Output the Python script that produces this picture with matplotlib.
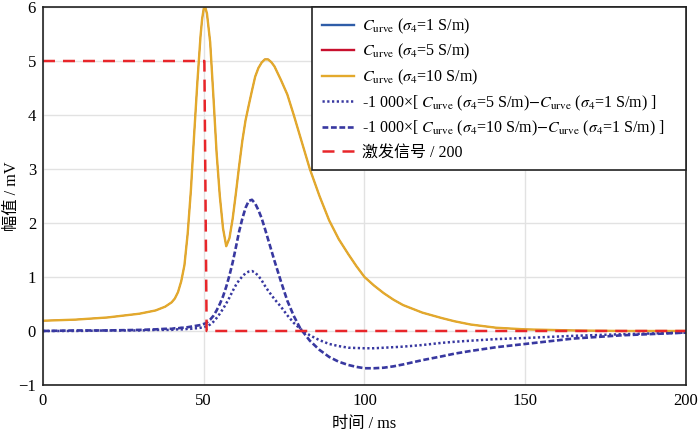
import matplotlib
matplotlib.use('Agg')
import numpy as np
import matplotlib.pyplot as plt

plt.rcParams['font.family'] = ['Liberation Serif', 'Noto Sans CJK SC']
plt.rcParams['mathtext.fontset'] = 'stix'

# 时间轴 (ms)
t = [0, 10, 20, 30, 35, 38,
     40, 41, 42, 43, 44, 45, 46, 47, 48, 49,
     49.5, 50, 50.5, 51,
     52, 53, 54, 55, 56, 57, 58, 59, 60, 61, 62, 63, 64, 65, 66, 67, 68, 69, 70, 71, 72,
     74, 76, 78, 80,
     83, 86, 89, 92, 95,
     97.5, 100, 103, 106, 109, 112, 115, 118, 121, 124, 128,
     133, 141, 150, 165, 180, 200]

# Curve (sigma4 = 10 S/m), mV
curve_s10 = [0.19, 0.21, 0.25, 0.32, 0.38, 0.45,
             0.53, 0.60, 0.72, 0.92, 1.22, 1.80, 2.60, 3.62, 4.59, 5.46,
             5.78, 5.97, 5.99, 5.88,
             5.35, 4.35, 3.30, 2.50, 1.90, 1.57, 1.72, 2.08, 2.55, 3.05, 3.52, 3.90, 4.18, 4.45,
             4.71, 4.87, 4.97, 5.03, 5.03, 4.98, 4.90,
             4.65, 4.38, 4.00, 3.60,
             3.00, 2.50, 2.05, 1.70, 1.42,
             1.20, 1.00, 0.84, 0.70, 0.58, 0.48, 0.41, 0.34, 0.29, 0.24, 0.18,
             0.12, 0.06, 0.03, 0.01, 0.00, 0.00]

# -1000 x [Curve(10) - Curve(1)]
diff_10 = [0.00, 0.01, 0.01, 0.02, 0.03, 0.04,
           0.04, 0.05, 0.05, 0.06, 0.06, 0.07, 0.08, 0.09, 0.10, 0.11,
           0.12, 0.13, 0.14, 0.16,
           0.21, 0.28, 0.38, 0.50, 0.64, 0.82, 1.03, 1.27, 1.55, 1.84, 2.08, 2.28, 2.41, 2.43,
           2.36, 2.24, 2.09, 1.90, 1.70, 1.50, 1.30,
           0.92, 0.56, 0.28, 0.05,
           -0.18, -0.35, -0.48, -0.57, -0.63,
           -0.665, -0.69, -0.69, -0.68, -0.655, -0.62, -0.58, -0.54, -0.505, -0.47, -0.42,
           -0.37, -0.30, -0.24, -0.14, -0.08, -0.03]

# -1000 x [Curve(5) - Curve(1)]
diff_5 = [0.00, 0.00, 0.01, 0.01, 0.02, 0.02,
          0.02, 0.03, 0.03, 0.03, 0.03, 0.04, 0.04, 0.05, 0.05, 0.06,
          0.06, 0.07, 0.08, 0.09,
          0.12, 0.17, 0.24, 0.32, 0.41, 0.51, 0.62, 0.74, 0.85, 0.94, 1.01, 1.07, 1.10, 1.11,
          1.08, 1.02, 0.94, 0.84, 0.75, 0.67, 0.59,
          0.45, 0.29, 0.15, 0.04,
          -0.08, -0.17, -0.24, -0.28, -0.31,
          -0.315, -0.32, -0.32, -0.31, -0.30, -0.29, -0.275, -0.26, -0.24, -0.22, -0.20,
          -0.18, -0.15, -0.13, -0.09, -0.06, -0.03]

# 激发信号 / 200
t_exc = [0, 50.2, 50.9, 200]
exc = [5, 5, 0, 0]

c10 = np.array(curve_s10)
c1 = c10 + np.array(diff_10) / 1000
c5 = c1 - np.array(diff_5) / 1000

fig = plt.figure(figsize=(7, 4.33), dpi=100)
ax = fig.add_axes([0.0614, 0.1109, 0.9186, 0.8729])

# 三条 Curve 几乎重合，只有黄色可见
ax.plot(t, c1, color='#2f5da8', lw=0.8, label=r'$C_{\mathrm{urve}}$ ($\sigma_4$=1 S/m)')
ax.plot(t, c5, color='#c8102e', lw=0.8, label=r'$C_{\mathrm{urve}}$ ($\sigma_4$=5 S/m)')
ax.plot(t, c10, color='#e3a92c', lw=1.7, label=r'$C_{\mathrm{urve}}$ ($\sigma_4$=10 S/m)')
ax.plot(t, diff_5, color='#3838a0', lw=1.8, linestyle=(0, (0.9, 1.0)),
        label=r'-1 000×[ $C_{\mathrm{urve}}$ ($\sigma_4$=5 S/m)$-$$C_{\mathrm{urve}}$ ($\sigma_4$=1 S/m) ]')
ax.plot(t, diff_10, color='#3838a0', lw=1.9, linestyle=(0, (2.2, 1)),
        label=r'-1 000×[ $C_{\mathrm{urve}}$ ($\sigma_4$=10 S/m)$-$$C_{\mathrm{urve}}$ ($\sigma_4$=1 S/m) ]')
ax.plot(t_exc, exc, color='#e8262a', lw=1.8, linestyle=(0, (4.8, 3.2)), label='激发信号 / 200')

ax.set_xlim(0, 200)
ax.set_ylim(-1, 6)
ax.set_xticks([0, 50, 100, 150, 200])
ax.set_yticks(range(-1, 7))
ax.grid(color='#e2e2e2', lw=1)
ax.set_axisbelow(True)
ax.tick_params(length=0, labelsize=12)
ax.tick_params(axis='x', pad=6)
ax.tick_params(axis='y', pad=5)
for s in ax.spines.values():
    s.set_color('#222222')
    s.set_linewidth(1.2)

ax.set_xlabel('时间 / ms', fontsize=11.7, labelpad=5)
ax.set_ylabel('幅值 / mV', fontsize=11.7)
ax.yaxis.set_label_coords(-0.036, 0.5)

# 图例框宽度按原图固定
leg = ax.legend(loc='upper left', bbox_to_anchor=(0.4184, 0.0, 0.5816, 1.0), mode='expand',
                borderaxespad=0, fontsize=11.5, fancybox=False,
                edgecolor='#222222', framealpha=1, handlelength=2.0, handletextpad=0.55,
                labelspacing=0.4, borderpad=0.6)
leg.get_frame().set_linewidth(1.2)
for h in leg.legend_handles[:2]:
    h.set_linewidth(1.7)

fig.savefig('out.png', dpi=100)
